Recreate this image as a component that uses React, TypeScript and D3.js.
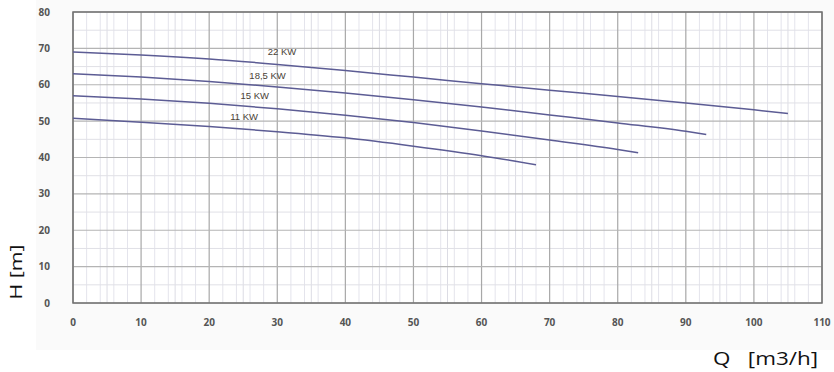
import React from "react";
import * as d3 from "d3";

const xTicks = [0, 10, 20, 30, 40, 50, 60, 70, 80, 90, 100, 110];
const yTicks = [0, 10, 20, 30, 40, 50, 60, 70, 80];

const q22 = [0, 10, 20, 30, 40, 50, 60, 70, 80, 90, 100, 105];
const h22 = [69, 68.2, 67.1, 65.6, 63.9, 62.1, 60.3, 58.5, 56.8, 55.0, 53.1, 52.1];
const q185 = [0, 10, 20, 30, 40, 50, 60, 70, 80, 90, 93];
const h185 = [63, 62.1, 60.9, 59.4, 57.7, 55.9, 53.9, 51.7, 49.5, 47.2, 46.3];
const q15 = [0, 10, 20, 30, 40, 50, 60, 70, 80, 83];
const h15 = [57, 56.1, 54.9, 53.4, 51.6, 49.6, 47.3, 44.8, 42.2, 41.3];
const q11 = [0, 10, 20, 30, 40, 50, 60, 68];
const h11 = [50.8, 49.7, 48.5, 47.1, 45.4, 43.1, 40.5, 38.0];

const seriesLabels = ["22 KW", "18,5 KW", "15 KW", "11 KW"];
const labelQ = [28.6, 25.9, 24.6, 23.1];
const labelH = [68.3, 61.6, 56.0, 50.4];

export default function App() {
  const W = 834, H = 372;
  const x = d3.scaleLinear().domain([0, 110]).range([73, 822]);
  const y = d3.scaleLinear().domain([0, 80]).range([303, 12]);
  const line = d3.line<[number, number]>().x(d => x(d[0])).y(d => y(d[1])).curve(d3.curveMonotoneX);
  const series = [
    [q22, h22],
    [q185, h185],
    [q15, h15],
    [q11, h11],
  ];
  const minorX = d3.range(0, 111, 2).filter(v => v % 10 !== 0);
  const minorY = d3.range(0, 81, 5).filter(v => v % 10 !== 0);
  const minorX5 = d3.range(5, 110, 10);
  return (
    <svg width={W} height={H} style={{ display: "block", position: "absolute", left: 0, top: 0 }}>
      <rect x={36} y={0} width={798} height={350} fill="#fafafa" />
      <rect x={x(0)} y={y(80)} width={x(110) - x(0)} height={y(0) - y(80)} fill="#ffffff" />
      {minorX.map(v => (
        <line key={"mx" + v} x1={x(v)} x2={x(v)} y1={y(0)} y2={y(80)} stroke="#e4e4ec" strokeWidth={1} />
      ))}
      {minorX5.map(v => (
        <line key={"mx5" + v} x1={x(v)} x2={x(v)} y1={y(0)} y2={y(80)} stroke="#dcdce4" strokeWidth={1} />
      ))}
      {minorY.map(v => (
        <line key={"my" + v} x1={x(0)} x2={x(110)} y1={y(v)} y2={y(v)} stroke="#e0e0e6" strokeWidth={1} />
      ))}
      {xTicks.map(v => (
        <line key={"gx" + v} x1={x(v)} x2={x(v)} y1={y(0)} y2={y(80)} stroke="#a8a8a8" strokeWidth={1.2} />
      ))}
      {yTicks.map(v => (
        <line key={"gy" + v} x1={x(0)} x2={x(110)} y1={y(v)} y2={y(v)} stroke="#b4b4b4" strokeWidth={1.2} />
      ))}
      <rect x={x(0)} y={y(80)} width={x(110) - x(0)} height={y(0) - y(80)} fill="none" stroke="#707070" strokeWidth={1.5} />
      {series.map((s, i) => (
        <path key={"s" + i} d={line(s[0].map((q, j) => [q, s[1][j]] as [number, number])) || ""} fill="none" stroke="#5c5c94" strokeWidth={1.5} />
      ))}
      {seriesLabels.map((t, i) => (
        <text key={"l" + i} x={x(labelQ[i])} y={y(labelH[i])} fontFamily="Liberation Sans, Arial, sans-serif" fontSize={9.5} fill="#4a4236">{t}</text>
      ))}
      {xTicks.map(v => (
        <text key={"xt" + v} x={x(v)} y={326} textAnchor="middle" fontFamily="Open Sans, sans-serif" fontWeight="bold" fontSize={10} fill="#555">{v}</text>
      ))}
      {yTicks.map(v => (
        <text key={"yt" + v} x={50} y={y(v) + 3.5} textAnchor="end" fontFamily="Open Sans, sans-serif" fontWeight="bold" fontSize={10} fill="#555">{v}</text>
      ))}
      <text transform="translate(22,272) rotate(-90)" textAnchor="middle" fontFamily="Open Sans, sans-serif" fontSize={17} fill="#111" textLength={55} lengthAdjust="spacingAndGlyphs">H [m]</text>
      <text x={713} y={365} fontFamily="Open Sans, sans-serif" fontSize={18} fill="#111" style={{ whiteSpace: "pre" }} textLength={105} lengthAdjust="spacingAndGlyphs">{"Q   [m3/h]"}</text>
    </svg>
  );
}
